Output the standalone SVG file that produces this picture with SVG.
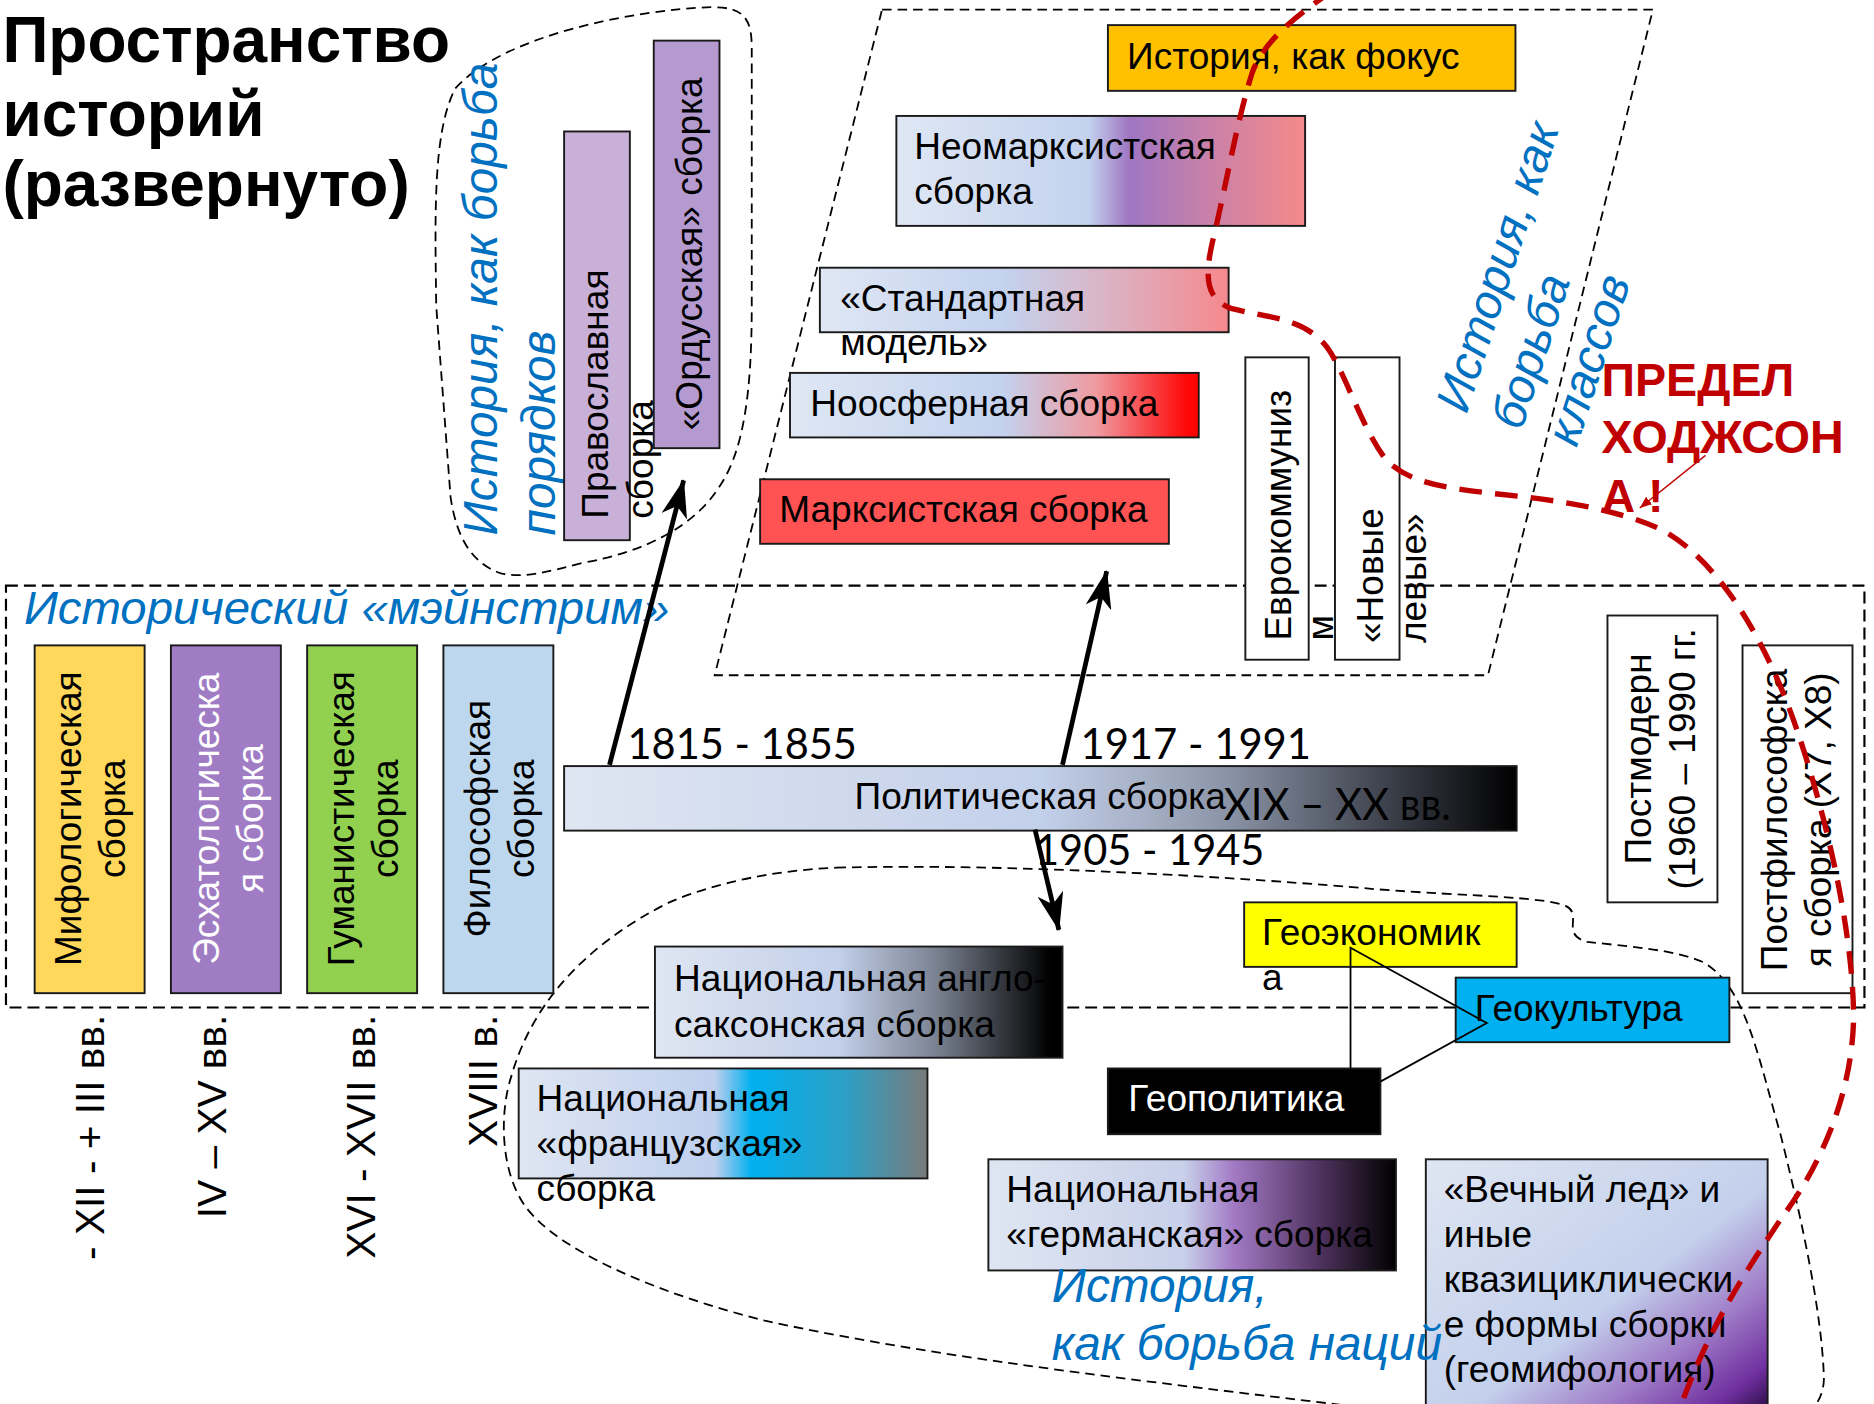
<svg xmlns="http://www.w3.org/2000/svg" width="1874" height="1404" viewBox="0 0 1874 1404">
<style>
.box{stroke:#1a1a1a;stroke-width:1.6}
.t{font-family:"Liberation Sans",Arial,sans-serif;font-size:31px;fill:#000}
.w{fill:#fff}
.blue{font-family:"Liberation Sans",Arial,sans-serif;font-style:italic;font-size:40px;fill:#0070c0}
.yr{font-family:Lato,"Liberation Sans",sans-serif;font-size:35px;fill:#000}
.title{font-family:"Liberation Sans",Arial,sans-serif;font-weight:bold;font-size:53.5px;fill:#000}
.red{font-family:"Liberation Sans",Arial,sans-serif;font-weight:bold;font-size:39px;fill:#c00000}
.dash{fill:none;stroke:#000;stroke-width:1.5;stroke-dasharray:8 5}
.arrow{stroke:#000;stroke-width:4;fill:none}
.thin{stroke:#000;stroke-width:1.5;fill:none}
</style>
<defs>
<linearGradient id="gNeo" x1="0" y1="0" x2="1" y2="0"><stop offset="0" stop-color="#dfe7f4"/><stop offset="0.47" stop-color="#c3d2ee"/><stop offset="0.57" stop-color="#9f76c2"/><stop offset="0.75" stop-color="#c680aa"/><stop offset="1" stop-color="#f58a8a"/></linearGradient>
<linearGradient id="gStd" x1="0" y1="0" x2="1" y2="0"><stop offset="0" stop-color="#dfe7f4"/><stop offset="0.45" stop-color="#c3d2ee"/><stop offset="0.68" stop-color="#d9b6c8"/><stop offset="1" stop-color="#f5898e"/></linearGradient>
<linearGradient id="gNoo" x1="0" y1="0" x2="1" y2="0"><stop offset="0" stop-color="#dfe7f4"/><stop offset="0.52" stop-color="#c3d2ee"/><stop offset="0.75" stop-color="#ef9aa0"/><stop offset="0.97" stop-color="#ff0808"/><stop offset="1" stop-color="#ff0000"/></linearGradient>
<linearGradient id="gPol" x1="0" y1="0" x2="1" y2="0"><stop offset="0" stop-color="#dfe6f2"/><stop offset="0.5" stop-color="#c3d0ea"/><stop offset="0.62" stop-color="#a3adc2"/><stop offset="0.7" stop-color="#8992a5"/><stop offset="0.9" stop-color="#2c2f37"/><stop offset="1" stop-color="#000"/></linearGradient>
<linearGradient id="gAng" x1="0" y1="0" x2="1" y2="0"><stop offset="0" stop-color="#dfe6f2"/><stop offset="0.45" stop-color="#c3d0ea"/><stop offset="0.68" stop-color="#7e8696"/><stop offset="0.97" stop-color="#000"/></linearGradient>
<linearGradient id="gFr" x1="0" y1="0" x2="1" y2="0"><stop offset="0" stop-color="#dfe6f2"/><stop offset="0.48" stop-color="#bfcfee"/><stop offset="0.57" stop-color="#00b0f0"/><stop offset="0.8" stop-color="#2d9fc5"/><stop offset="1" stop-color="#7a7a7a"/></linearGradient>
<linearGradient id="gGer" x1="0" y1="0" x2="1" y2="0"><stop offset="0" stop-color="#dfe6f2"/><stop offset="0.48" stop-color="#c8d0ea"/><stop offset="0.6" stop-color="#a37bc5"/><stop offset="0.8" stop-color="#553665"/><stop offset="1" stop-color="#000"/></linearGradient>
<linearGradient id="gIce" x1="0" y1="0" x2="1" y2="1"><stop offset="0" stop-color="#dfe6f2"/><stop offset="0.55" stop-color="#c3d0ec"/><stop offset="0.74" stop-color="#a07ec8"/><stop offset="0.9" stop-color="#7030a0"/><stop offset="1" stop-color="#200838"/></linearGradient>
<marker id="ah" markerUnits="userSpaceOnUse" viewBox="0 0 32 22" markerWidth="32" markerHeight="22" refX="31" refY="11" orient="auto"><path d="M0,0 L32,11 L0,22 L9,11 Z" fill="#000"/></marker>
<marker id="ahr" markerUnits="userSpaceOnUse" viewBox="0 0 10 8" markerWidth="10" markerHeight="8" refX="10" refY="4" orient="auto"><path d="M0,0 L10,4 L0,8 Z" fill="#c00000"/></marker>
</defs>
<rect x="0" y="0" width="1874" height="1404" fill="#fff"/>
<g transform="scale(1.19515)">

<g id="regions">
<path class="dash" d="M381,74 C420,30 530,8 596,6 C622,6 629,15 629,40 L629,256 C629,330 622,380 600,410 C580,440 540,462 487,471 C460,478 440,484 420,480 C395,472 382,450 377,416 L365,256 C364,180 362,110 381,74 Z"/>
<polygon class="dash" points="738,8 1383,8 1245,565 598,565"/>
<rect class="dash" x="5" y="490" width="1555" height="353" style="stroke-width:1.8;stroke-dasharray:10 5"/>
<path class="dash" d="M700,726 C850,722 1050,735 1151,744 C1230,750 1290,750 1310,758 C1325,765 1305,782 1328,788 C1360,792 1400,794 1425,805 C1460,825 1470,880 1490,950 C1510,1030 1524,1100 1526,1150 C1528,1180 1500,1200 1460,1200 L1200,1185 C1000,1160 800,1140 640,1105 C560,1085 470,1050 440,1010 C418,980 418,930 428,900 C445,840 490,790 560,755 C600,738 650,728 700,726 Z"/>
</g>

<g id="title">
<text class="title" x="2" y="52">Пространство</text>
<text class="title" x="2" y="114">историй</text>
<text class="title" x="2" y="172">(развернуто)</text>
</g>

<g id="label-order">
<text class="blue" transform="translate(416,448) rotate(-90)">История, как борьба</text>
<text class="blue" transform="translate(464,448) rotate(-90)">порядков</text>
</g>

<g id="node-orthodox">
<rect class="box" x="472" y="110" width="55" height="342" fill="#c9b0d8"/>
<text class="t" transform="translate(509,434) rotate(-90)">Православная</text>
<text class="t" transform="translate(546,434) rotate(-90)">сборка</text>
</g>
<g id="node-ordus">
<rect class="box" x="547" y="34" width="55" height="341" fill="#b59ad0"/>
<text class="t" transform="translate(587,360) rotate(-90)">«Ордусская» сборка</text>
</g>

<g id="node-focus">
<rect class="box" x="927" y="21" width="341" height="55" fill="#ffc000"/>
<text class="t" x="943" y="58">История, как фокус</text>
</g>
<g id="node-neomarx">
<rect class="box" x="750" y="97" width="342" height="92" fill="url(#gNeo)"/>
<text class="t" x="765" y="133">Неомарксистская</text>
<text class="t" x="765" y="171">сборка</text>
</g>
<g id="node-standard">
<rect class="box" x="686" y="224" width="342" height="54" fill="url(#gStd)"/>
<text class="t" x="703" y="260">«Стандартная</text>
<text class="t" x="703" y="297">модель»</text>
</g>
<g id="node-noo">
<rect class="box" x="661" y="312" width="342" height="54" fill="url(#gNoo)"/>
<text class="t" x="678" y="348">Ноосферная сборка</text>
</g>
<g id="node-marx">
<rect class="box" x="636" y="401" width="342" height="54" fill="#ff5252"/>
<text class="t" x="652" y="437">Марксистская сборка</text>
</g>
<g id="node-eurocom">
<rect class="box" x="1042" y="299" width="53" height="253" fill="#fff"/>
<text class="t" transform="translate(1080,536) rotate(-90)">Еврокоммуниз</text>
<text class="t" transform="translate(1115,536) rotate(-90)">м</text>
</g>
<g id="node-newleft">
<rect class="box" x="1117" y="299" width="54" height="253" fill="#fff"/>
<text class="t" transform="translate(1157,538) rotate(-90)">«Новые</text>
<text class="t" transform="translate(1193,538) rotate(-90)">левые»</text>
</g>
<g id="label-classes">
<text class="blue" transform="translate(1227,347) rotate(-72)">История, как</text>
<text class="blue" transform="translate(1273,361) rotate(-72)">борьба</text>
<text class="blue" transform="translate(1319,375) rotate(-72)">классов</text>
</g>
<g id="label-hodgson">
<text class="red" x="1340" y="331">ПРЕДЕЛ</text>
<text class="red" x="1340" y="379">ХОДЖСОН</text>
<text class="red" x="1340" y="428">А !</text>
</g>

<g id="label-mainstream">
<text class="blue" x="20" y="522" textLength="540" lengthAdjust="spacingAndGlyphs" style="font-size:39px">Исторический «мэйнстрим»</text>
</g>

<g id="node-myth">
<rect class="box" x="29" y="540" width="92" height="291" fill="#ffd75a"/>
<text class="t" text-anchor="middle" transform="translate(68,685) rotate(-90)">Мифологическая</text>
<text class="t" text-anchor="middle" transform="translate(105,685) rotate(-90)">сборка</text>
</g>
<g id="node-eschat">
<rect class="box" x="143" y="540" width="92" height="291" fill="#a07cc4"/>
<text class="t w" text-anchor="middle" transform="translate(183,685) rotate(-90)">Эсхатологическа</text>
<text class="t w" text-anchor="middle" transform="translate(220,685) rotate(-90)">я сборка</text>
</g>
<g id="node-human">
<rect class="box" x="257" y="540" width="92" height="291" fill="#92d050"/>
<text class="t" text-anchor="middle" transform="translate(296,685) rotate(-90)">Гуманистическая</text>
<text class="t" text-anchor="middle" transform="translate(333,685) rotate(-90)">сборка</text>
</g>
<g id="node-philo">
<rect class="box" x="371" y="540" width="92" height="291" fill="#bdd7ee"/>
<text class="t" text-anchor="middle" transform="translate(410,685) rotate(-90)">Философская</text>
<text class="t" text-anchor="middle" transform="translate(447,685) rotate(-90)">сборка</text>
</g>

<g id="dates">
<text class="t" style="font-size:34px" text-anchor="end" transform="translate(87,849) rotate(-90)">- XII - + III вв.</text>
<text class="t" style="font-size:34px" text-anchor="end" transform="translate(189,849) rotate(-90)">IV – XV вв.</text>
<text class="t" style="font-size:34px" text-anchor="end" transform="translate(314,849) rotate(-90)">XVI - XVII вв.</text>
<text class="t" style="font-size:34px" text-anchor="end" transform="translate(416,849) rotate(-90)">XVIII в.</text>
</g>

<g id="node-political">
<rect class="box" x="472" y="641" width="797" height="54" fill="url(#gPol)"/>
<text class="t" x="715" y="677">Политическая сборка</text>
<text class="yr" x="1024" y="686" textLength="190" lengthAdjust="spacingAndGlyphs" style="font-size:37px;fill:#000">XIX – XX вв.</text>
</g>
<g id="years">
<text class="yr" x="525" y="635" textLength="192" lengthAdjust="spacingAndGlyphs">1815 - 1855</text>
<text class="yr" x="904" y="635" textLength="193" lengthAdjust="spacingAndGlyphs">1917 - 1991</text>
<text class="yr" x="866" y="724" textLength="192" lengthAdjust="spacingAndGlyphs">1905 - 1945</text>
</g>

<g id="node-postmodern">
<rect class="box" x="1345" y="515" width="92" height="240" fill="#fff"/>
<text class="t" text-anchor="middle" transform="translate(1381,635) rotate(-90)">Постмодерн</text>
<text class="t" text-anchor="middle" transform="translate(1418,635) rotate(-90)">(1960 – 1990 гг.</text>
</g>
<g id="node-postphilo">
<rect class="box" x="1458" y="540" width="92" height="291" fill="#fff"/>
<text class="t" text-anchor="middle" transform="translate(1495,686) rotate(-90)">Постфилософска</text>
<text class="t" text-anchor="middle" transform="translate(1532,686) rotate(-90)">я сборка (X7, X8)</text>
</g>

<g id="node-anglo">
<rect class="box" x="548" y="792" width="341" height="93" fill="url(#gAng)"/>
<text class="t" x="564" y="829">Национальная англо-</text>
<text class="t" x="564" y="868">саксонская сборка</text>
</g>
<g id="node-french">
<rect class="box" x="434" y="894" width="342" height="92" fill="url(#gFr)"/>
<text class="t" x="449" y="930">Национальная</text>
<text class="t" x="449" y="967">«французская»</text>
<text class="t" x="449" y="1005">сборка</text>
</g>
<g id="node-geoecon">
<rect class="box" x="1041" y="755" width="228" height="54" fill="#ffff00"/>
<text class="t" x="1056" y="791">Геоэкономик</text>
<text class="t" x="1056" y="828">а</text>
</g>
<g id="node-geocult">
<rect class="box" x="1218" y="818" width="229" height="54" fill="#00b0f0"/>
<text class="t" x="1234" y="854">Геокультура</text>
</g>
<g id="node-geopol">
<rect class="box" x="927" y="894" width="228" height="55" fill="#000"/>
<text class="t w" x="944" y="930">Геополитика</text>
</g>
<g id="node-german">
<rect class="box" x="827" y="970" width="341" height="93" fill="url(#gGer)"/>
<text class="t" x="842" y="1006">Национальная</text>
<text class="t" x="842" y="1043">«германская» сборка</text>
</g>
<g id="node-ice">
<rect class="box" x="1193" y="970" width="286" height="215" fill="url(#gIce)"/>
<text class="t" x="1208" y="1006">«Вечный лед» и</text>
<text class="t" x="1208" y="1043">иные</text>
<text class="t" x="1208" y="1081">квазициклически</text>
<text class="t" x="1208" y="1119">е формы сборки</text>
<text class="t" x="1208" y="1156">(геомифология)</text>
</g>
<g id="label-nations">
<text class="blue" x="880" y="1089">История,</text>
<text class="blue" x="880" y="1138">как борьба наций</text>
</g>

<g id="connectors">
<line class="arrow" x1="510" y1="640" x2="572" y2="402" marker-end="url(#ah)"/>
<line class="arrow" x1="889" y1="640" x2="926" y2="478" marker-end="url(#ah)"/>
<line class="arrow" x1="866" y1="694" x2="886" y2="778" marker-end="url(#ah)"/>
<polyline class="thin" points="1155,905 1244,856 1130,793 1130,894"/>
<path d="M1115,-8 C1090,10 1060,30 1048,60 C1035,100 1025,160 1015,200 C1008,230 1008,250 1030,258 C1060,266 1090,265 1110,290 C1125,310 1140,360 1160,385 C1180,405 1210,408 1250,413 C1300,418 1350,425 1390,443 C1440,470 1480,540 1505,615 C1530,690 1550,780 1551,850 C1550,920 1520,980 1490,1020 C1460,1065 1430,1110 1405,1180" fill="none" stroke="#c00000" stroke-width="4.5" stroke-dasharray="19 11"/>
<line x1="1427" y1="381" x2="1372" y2="425" stroke="#c00000" stroke-width="1.2" marker-end="url(#ahr)"/>
</g>
</g>
</svg>
